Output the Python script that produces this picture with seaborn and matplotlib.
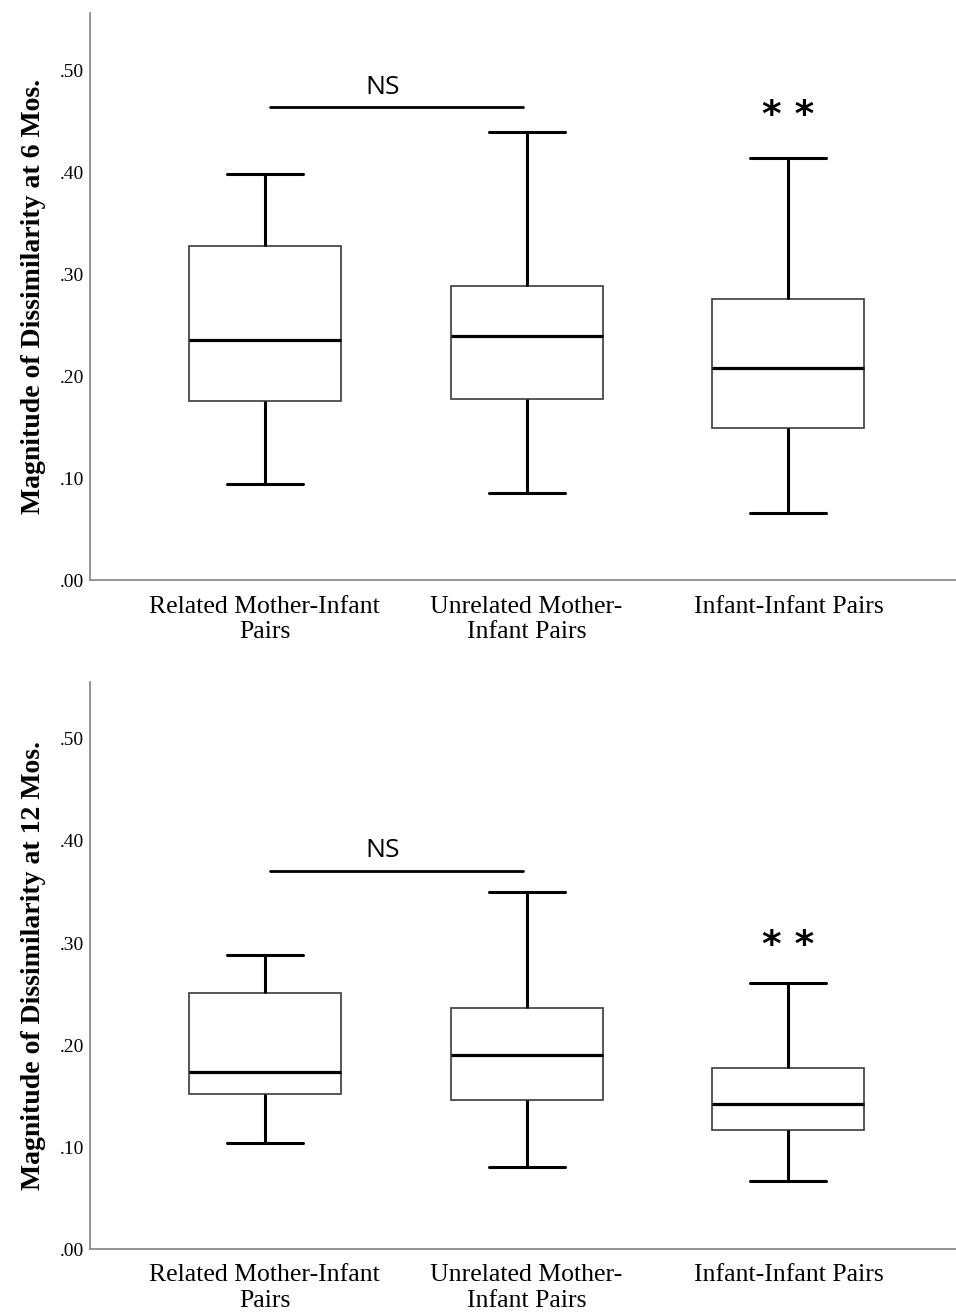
import numpy as np
import pandas as pd
import seaborn as sns
import matplotlib
matplotlib.use("Agg")
import matplotlib.pyplot as plt

# ---- data ----
groups = ["Related Mother-Infant\nPairs", "Unrelated Mother-\nInfant Pairs", "Infant-Infant Pairs"]
# five-number summaries: [lower whisker, Q1, median, Q3, upper whisker]
six_months = {
    groups[0]: [0.094, 0.176, 0.236, 0.328, 0.398],
    groups[1]: [0.086, 0.178, 0.240, 0.289, 0.439],
    groups[2]: [0.066, 0.149, 0.208, 0.276, 0.414],
}
twelve_months = {
    groups[0]: [0.104, 0.152, 0.174, 0.251, 0.288],
    groups[1]: [0.080, 0.146, 0.190, 0.236, 0.350],
    groups[2]: [0.067, 0.117, 0.142, 0.177, 0.261],
}
ylabels = ["Magnitude of Dissimilarity at 6 Mos.", "Magnitude of Dissimilarity at 12 Mos."]
yticks = [0.0, 0.1, 0.2, 0.3, 0.4, 0.5]
yticklabels = [".00", ".10", ".20", ".30", ".40", ".50"]
ns_y = [0.464, 0.371]
star_y = [0.455, 0.297]

sns.set_theme(style="white")
plt.rcParams["font.family"] = ["Liberation Serif", "DejaVu Serif"]
plt.rcParams["text.color"] = "black"
plt.rcParams["axes.labelcolor"] = "black"
plt.rcParams["xtick.color"] = "black"
plt.rcParams["ytick.color"] = "black"

fig = plt.figure(figsize=(9.56, 13.13), dpi=100)
ax_pos = [
    [0.094, 0.558, 0.906, 0.432],
    [0.094, 0.0487, 0.906, 0.432],
]

for i, summ in enumerate([six_months, twelve_months]):
    ax = fig.add_axes(ax_pos[i])
    df = pd.DataFrame(
        [(g, v) for g in groups for v in summ[g]], columns=["group", "value"]
    )
    sns.boxplot(
        data=df, x="group", y="value", order=groups, ax=ax,
        whis=(0, 100), width=0.58, color="white", saturation=1,
        linecolor="#4a4a4a", linewidth=1.2, showfliers=False,
        boxprops=dict(edgecolor="#4a4a4a", linewidth=1.3, facecolor="white"),
        medianprops=dict(color="black", linewidth=2.3),
        whiskerprops=dict(color="black", linewidth=2.2),
        capprops=dict(color="black", linewidth=2.2),
    )
    ax.set_ylim(0, 0.556)
    ax.set_xlim(-0.668, 2.64)
    ax.set_yticks(yticks)
    ax.set_yticklabels(yticklabels, fontsize=14)
    ax.tick_params(axis="both", length=0)
    ax.tick_params(axis="y", pad=4)
    ax.tick_params(axis="x", pad=11, labelsize=18.5)
    for lab in ax.get_xticklabels():
        lab.set_linespacing(1.2)
    ax.set_xlabel("")
    ax.set_ylabel(ylabels[i], fontsize=20, fontweight="bold", labelpad=10)
    for s in ["top", "right"]:
        ax.spines[s].set_visible(False)
    for s in ["left", "bottom"]:
        ax.spines[s].set_color("#8c8c8c")
        ax.spines[s].set_linewidth(1.3)

    # significance annotations
    ax.plot([0.02, 0.985], [ns_y[i], ns_y[i]], color="black", linewidth=2.0)
    ax.text(0.45, ns_y[i] + 0.013, "NS", ha="center", va="baseline",
            fontsize=19, family=["Open Sans", "DejaVu Sans"])
    ax.text(2.0, star_y[i], "* *", ha="center", va="center",
            fontsize=27, fontweight="bold", family=["DejaVu Sans"])

fig.savefig("out.png", dpi=100)
